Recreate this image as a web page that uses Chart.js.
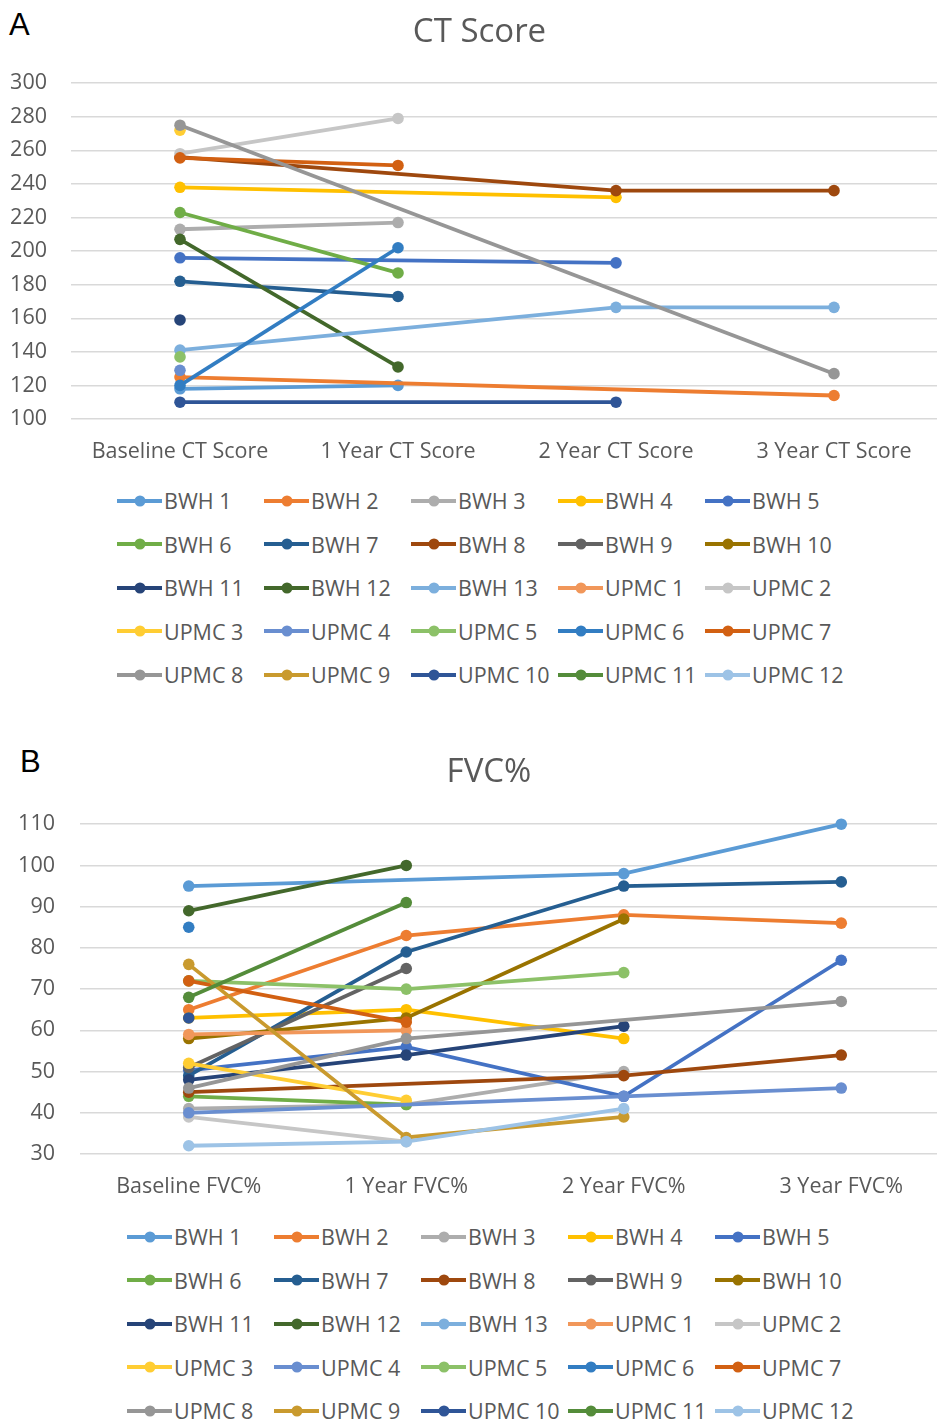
<!DOCTYPE html>
<html>
<head>
<meta charset="utf-8">
<script src="https://cdn.jsdelivr.net/npm/chart.js@4.4.1/dist/chart.umd.min.js"></script>
<style>
  body { margin: 0; background: #fff; width: 937px; height: 1423px; overflow: hidden; position: relative; font-family: "Open Sans", sans-serif; }
  .panel { position: absolute; left: 0; }
  .tag { position: absolute; font-family: "Liberation Sans", Arial, sans-serif; font-size: 31px; color: #000; line-height: 1; }
  .legend { position: absolute; display: grid; grid-template-columns: repeat(5, 147px); grid-auto-rows: 43.5px; }
  .item { display: flex; align-items: center; font-size: 21.5px; color: #595959; white-space: nowrap; }
  .mark { position: relative; width: 45px; height: 4px; margin-right: 2px; flex: none; }
  .mark i { position: absolute; left: 50%; top: 50%; width: 11px; height: 11px; border-radius: 50%; transform: translate(-50%, -50%); }
</style>
</head>
<body>
<div class="tag" style="left:9px;top:9px">A</div>
<div class="panel" style="top:0"><canvas id="ct" width="950" height="479"></canvas></div>
<div class="legend" id="ctLegend" style="left:117px;top:479px"></div>

<div class="tag" style="left:20px;top:746px">B</div>
<div class="panel" style="top:740px"><canvas id="fvc" width="960" height="474"></canvas></div>
<div class="legend" id="fvcLegend" style="left:127px;top:1215px"></div>

<script>
// series, in legend order
const seriesNames = ['BWH 1', 'BWH 2', 'BWH 3', 'BWH 4', 'BWH 5', 'BWH 6', 'BWH 7', 'BWH 8', 'BWH 9', 'BWH 10',
    'BWH 11', 'BWH 12', 'BWH 13', 'UPMC 1', 'UPMC 2', 'UPMC 3', 'UPMC 4', 'UPMC 5', 'UPMC 6', 'UPMC 7',
    'UPMC 8', 'UPMC 9', 'UPMC 10', 'UPMC 11', 'UPMC 12'];
const seriesColors = ['#5B9BD5', '#ED7D31', '#ADADAD', '#FFC000', '#4472C4', '#70AD47', '#255E91', '#9E480E', '#636363', '#997300',
    '#264478', '#43682B', '#7CAFDD', '#F1975A', '#C6C6C6', '#FFCD33', '#698ED0', '#8CC168', '#327DC2', '#D26012',
    '#969696', '#C99A2E', '#2F5597', '#548C3A', '#9DC3E6'];

// CT score, one array per time point (same order as seriesNames)
const ctLabels = ['Baseline CT Score', '1 Year CT Score', '2 Year CT Score', '3 Year CT Score'];
const ctBaseline = [118, 125, 213, 238, 196, 223, 182, 256, null, null, 159, 207, 141, null, 258, 272, 129, 137, 120, 255.5, 275, null, 110, null, null];
const ctYear1 = [120, null, 217, null, null, 187, 173, null, null, null, null, 131, null, null, 279, null, null, null, 202, 251, null, null, null, null, null];
const ctYear2 = [null, null, null, 232, 193, null, null, 236, null, null, null, null, 166.5, null, null, null, null, null, null, null, null, null, 110, null, null];
const ctYear3 = [null, 114, null, null, null, null, null, 236, null, null, null, null, 166.5, null, null, null, null, null, null, null, 127, null, null, null, null];
const ctTicks = { min: 100, max: 300, step: 20 };

// FVC%
const fvcLabels = ['Baseline FVC%', '1 Year FVC%', '2 Year FVC%', '3 Year FVC%'];
const fvcBaseline = [95, 65, 41, 63, 50.3, 44, 49, 45, 51, 58, 48, 89, null, 59, 39, 52, 40, 72, 85, 72, 46, 76, 63, 68, 32];
const fvcYear1 = [null, 83, 42, 65, 56, 42, 79, null, 75, 63, 54, 100, null, 60, 33, 43, null, 70, null, 62, 58, 34, null, 91, 33];
const fvcYear2 = [98, 88, 50, 58, 44, null, 95, 49, null, 87, 61, null, null, null, null, null, 44, 74, null, null, null, 39, null, null, 41];
const fvcYear3 = [110, 86, null, null, 77, null, 96, 54, null, null, null, null, null, null, null, null, 46, null, null, null, 67, null, null, null, null];
const fvcTicks = { min: 30, max: 110, step: 10 };

Chart.defaults.font.family = '"Open Sans", sans-serif';
Chart.defaults.color = '#595959';

// y labels hang left of the padded box; widen the label clip to the canvas edge
const unclipY = {
    id: 'unclipY',
    afterLayout(chart) { chart.scales.y.left = 0; }
};

function buildDatasets(points) {
    return seriesNames.map((name, i) => ({
        label: name,
        data: points.map(arr => arr[i]),
        borderColor: seriesColors[i],
        backgroundColor: seriesColors[i],
        borderWidth: 3.8,
        pointRadius: 5.8,
        pointBorderWidth: 0,
        pointHoverRadius: 5.8,
        spanGaps: true,
        clip: false,
        order: seriesNames.length - i
    }));
}

function criarGrafico(id, title, labels, points, ticks, pad, axisWidth, tickPad, titlePad) {
    return new Chart(document.getElementById(id), {
        type: 'line',
        data: { labels: labels, datasets: buildDatasets(points) },
        plugins: [unclipY],
        options: {
            responsive: false,
            animation: false,
            devicePixelRatio: 1,
            layout: { padding: pad },
            plugins: {
                legend: { display: false },
                tooltip: { enabled: false },
                title: {
                    display: true,
                    text: title,
                    color: '#595959',
                    font: { size: 33, weight: 'normal' },
                    padding: titlePad
                }
            },
            scales: {
                x: {
                    offset: true,
                    grid: { display: false, drawTicks: false },
                    border: { display: false },
                    ticks: { font: { size: 21.5 }, color: '#595959', padding: 20, maxRotation: 0 },
                    afterFit: s => { s.height = 60; }
                },
                y: {
                    min: ticks.min,
                    max: ticks.max,
                    grid: { color: '#d9d9d9', lineWidth: 1.5, drawTicks: false },
                    border: { display: false },
                    ticks: { stepSize: ticks.step, font: { size: 21.5 }, color: '#595959', padding: tickPad },
                    afterFit: s => { s.width = axisWidth; }
                }
            }
        }
    });
}

function criarLegenda(id) {
    const box = document.getElementById(id);
    seriesNames.forEach((name, i) => {
        const item = document.createElement('div');
        item.className = 'item';
        item.innerHTML = '<span class="mark" style="background:' + seriesColors[i] + '"><i style="background:' +
            seriesColors[i] + '"></i></span>' + name;
        box.appendChild(item);
    });
}

criarGrafico('ct', 'CT Score', ctLabels, [ctBaseline, ctYear1, ctYear2, ctYear3], ctTicks,
    { left: 16, right: 7, top: 0, bottom: 0 }, 55, 24, { top: 13, bottom: 30.6 });
criarGrafico('fvc', 'FVC%', fvcLabels, [fvcBaseline, fvcYear1, fvcYear2, fvcYear3], fvcTicks,
    { left: 28, right: 10, top: 0, bottom: 0 }, 52, 25, { top: 13, bottom: 31.6 });

criarLegenda('ctLegend');
criarLegenda('fvcLegend');
</script>
</body>
</html>
